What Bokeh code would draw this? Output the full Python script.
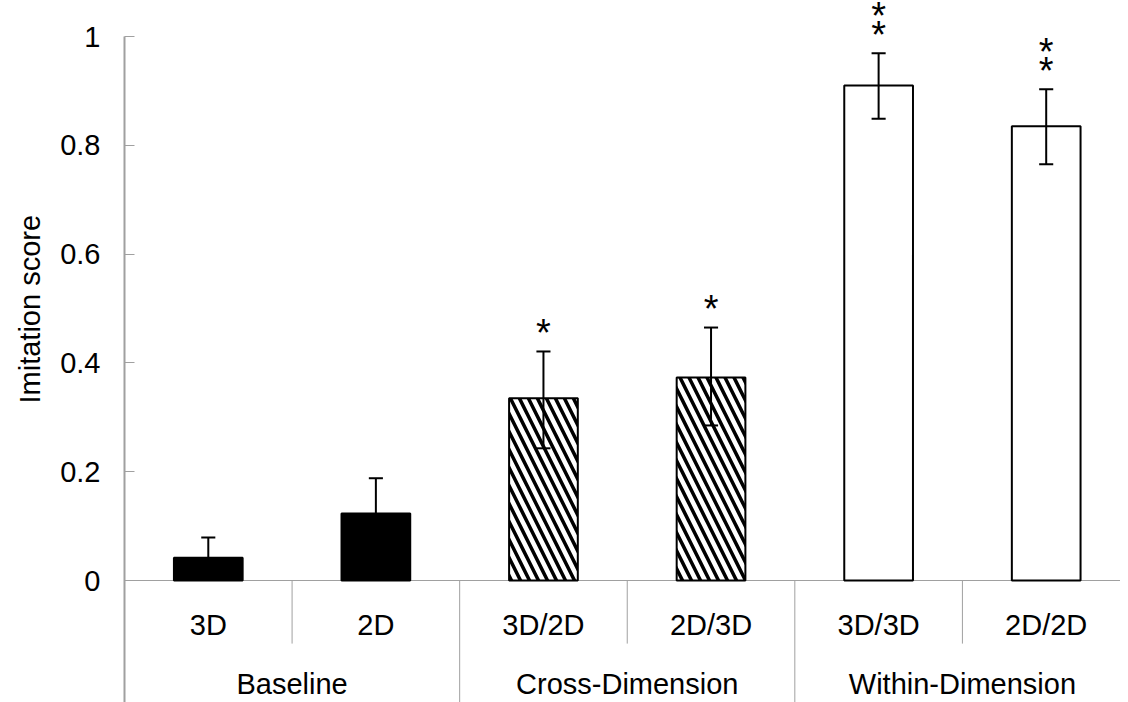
from bokeh.plotting import figure
from bokeh.models import ColumnDataSource, FixedTicker, Title
from bokeh.core.properties import value
from bokeh.embed import file_html
from bokeh.resources import INLINE

# ---- data ----
groups = ["Baseline", "Cross-Dimension", "Within-Dimension"]
conditions = ["3D", "2D", "3D/2D", "2D/3D", "3D/3D", "2D/2D"]
scores = [0.042, 0.123, 0.335, 0.373, 0.910, 0.835]
err_low = [0.004, 0.058, 0.243, 0.285, 0.849, 0.765]
err_high = [0.079, 0.188, 0.421, 0.465, 0.969, 0.903]
significance = ["", "", "*", "*", "**", "**"]
fills = ["black", "black", "white", "white", "white", "white"]
hatches = ["blank", "blank", "\\", "\\", "blank", "blank"]
y_ticks = [0, 0.2, 0.4, 0.6, 0.8, 1]
y_tick_labels = ["0", "0.2", "0.4", "0.6", "0.8", "1"]
y_title = "Imitation score"

FONT = value("Liberation Sans")
GREY = "#a0a0a0"

W, H = 1120, 702
left = 123
PX = 544.0                      # pixels per unit of score
CW = 167.75                     # pixels per category
y_top = 580 / PX
y_bot = -(H - 580) / PX
x_end = (W - left) / CW

p = figure(width=W, height=H, output_backend="svg", toolbar_location=None,
           x_range=(0, x_end), y_range=(y_bot, y_top),
           min_border_left=left, min_border_right=0, min_border_top=0, min_border_bottom=0)
p.xaxis.visible = False
p.grid.visible = False
p.outline_line_color = None

ya = p.yaxis[0]
ya.bounds = (y_bot, 1)
ya.ticker = FixedTicker(ticks=y_ticks)
ya.major_label_overrides = {t: l for t, l in zip(y_ticks, y_tick_labels)}
ya.minor_tick_line_color = None
ya.major_tick_in = 10
ya.major_tick_out = 0
ya.major_tick_line_color = GREY
ya.axis_line_color = GREY
ya.axis_line_width = 2
ya.major_label_text_font = "Liberation Sans"
ya.major_label_text_font_size = "29px"
ya.major_label_text_color = "black"
ya.major_label_standoff = 24

# y-axis title, positioned so it is centred on the 0..1 span
p.add_layout(Title(text=y_title, align="left", offset=299,
                   text_font="Liberation Sans", text_font_size="29px",
                   text_font_style="normal", text_color="black", standoff=23), "left")

n = len(conditions)
centers = [i + 0.5 for i in range(n)]

# baseline
p.segment(x0=[0], y0=[0], x1=[x_end], y1=[0], line_color=GREY, line_width=1)

# separators
sub_sep_x = [i for i in range(1, n) if i % 2 == 1]
grp_sep_x = [i for i in range(1, n + 1) if i % 2 == 0]
p.segment(x0=sub_sep_x, y0=[0] * len(sub_sep_x), x1=sub_sep_x,
          y1=[-0.116] * len(sub_sep_x), line_color=GREY, line_width=1)
p.segment(x0=grp_sep_x, y0=[0] * len(grp_sep_x), x1=grp_sep_x,
          y1=[y_bot] * len(grp_sep_x), line_color=GREY, line_width=1)

src = ColumnDataSource(dict(x=centers, top=scores, fill=fills, hatch=hatches,
                            lo=err_low, hi=err_high))
p.vbar(x="x", top="top", bottom=0, width=0.41, source=src,
       fill_color="fill", line_color="black", line_width=2,
       hatch_pattern="hatch", hatch_color="black", hatch_weight=3.5, hatch_scale=18)

# error bars
cap = 0.042
p.segment(x0="x", y0="lo", x1="x", y1="hi", source=src, line_color="black", line_width=2)
p.segment(x0=[c - cap for c in centers], y0=err_high, x1=[c + cap for c in centers],
          y1=err_high, line_color="black", line_width=2)
p.segment(x0=[c - cap for c in centers[2:]], y0=err_low[2:], x1=[c + cap for c in centers[2:]],
          y1=err_low[2:], line_color="black", line_width=2)

# significance stars
sx, sy = [], []
for c, h, s in zip(centers, err_high, significance):
    for k in range(len(s)):
        sx.append(c)
        sy.append(h + 0.034 + k * 0.034)
p.text(x=sx, y=sy, text=["*"] * len(sx), text_font=FONT, text_font_size="38px",
       text_align="center", text_baseline="middle", text_color="black")

# category labels
p.text(x=centers, y=[-0.0827] * n, text=conditions, text_font=FONT, text_font_size="29px",
       text_align="center", text_baseline="middle", text_color="black")
p.text(x=[2 * i + 1 for i in range(len(groups))], y=[-0.191] * len(groups), text=groups,
       text_font=FONT, text_font_size="29px", text_align="center", text_baseline="middle",
       text_color="black")

open("out.html", "w").write(file_html(p, INLINE))
